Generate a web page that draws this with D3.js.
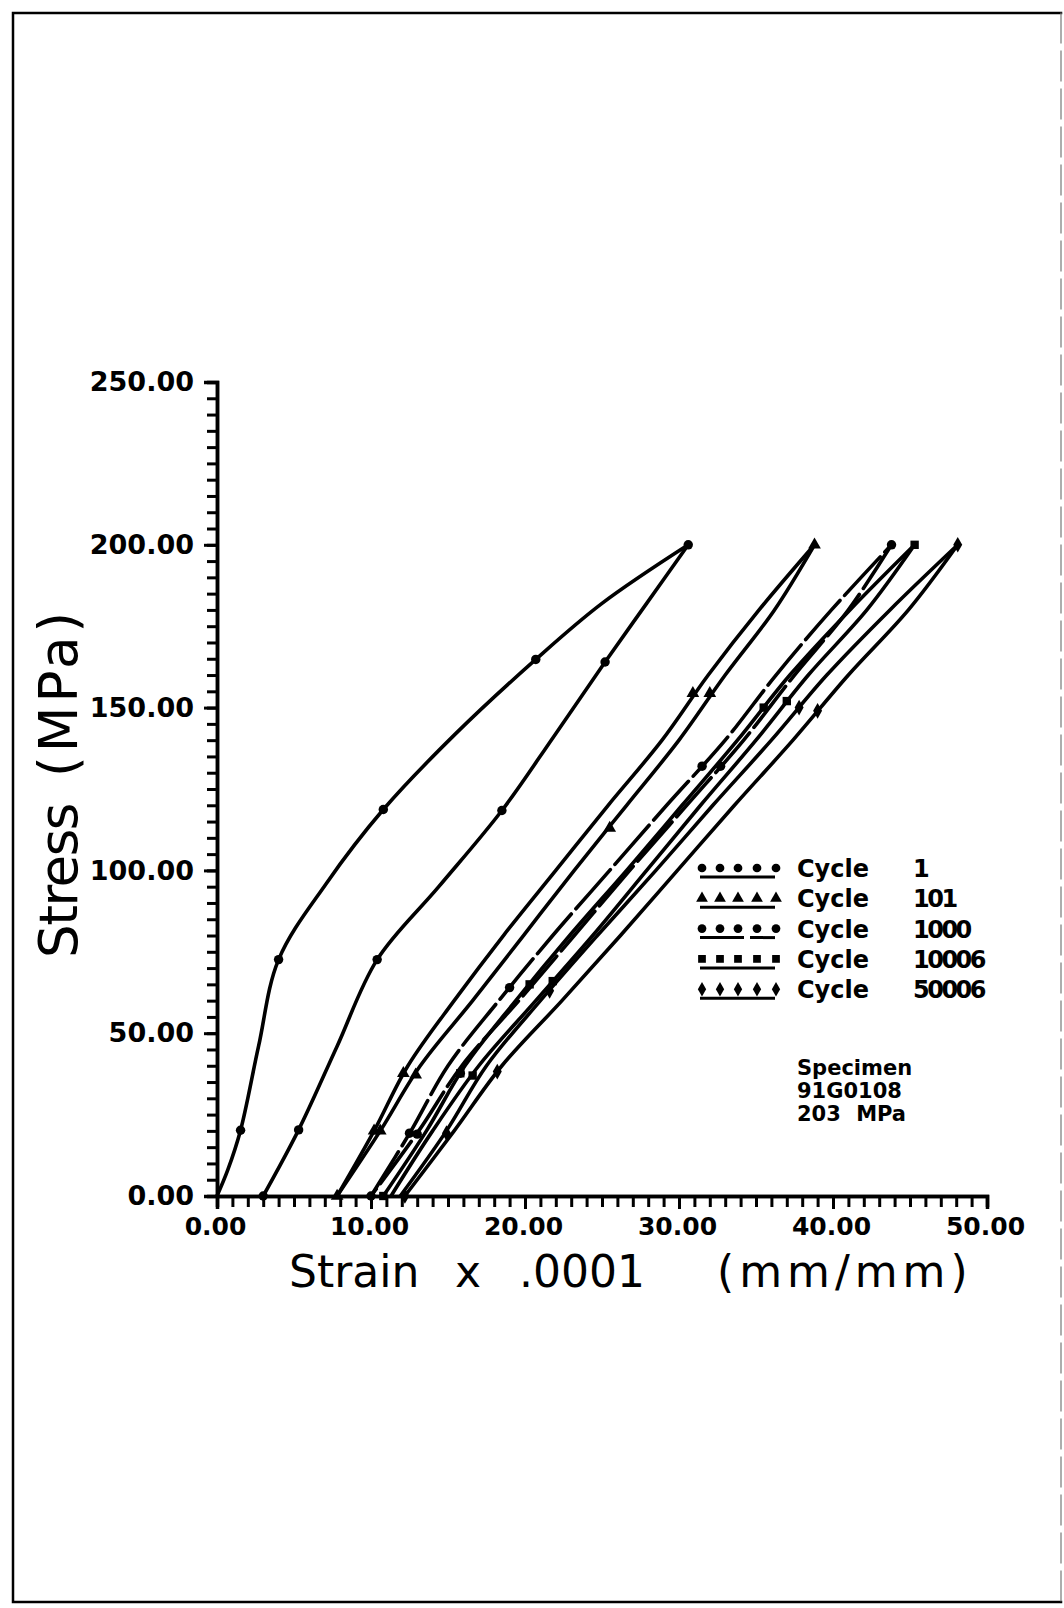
<!DOCTYPE html>
<html><head><meta charset="utf-8">
<script src="https://cdn.jsdelivr.net/npm/d3@7"></script>
<style>
html,body{margin:0;padding:0;background:#fff;}
svg{display:block;}
</style></head>
<body>
<script>
// Stress–strain hysteresis loops of specimen 91G0108 (peak stress 203 MPa)

const xTickValues = [0, 10, 20, 30, 40, 50];
const yTickValues = [0, 50, 100, 150, 200, 250];
const cycleLabels = ["1", "101", "1000", "10006", "50006"];
const specimenLines = ["Specimen", "91G0108", "203 MPa"];

// Loading / unloading branches: [strain x 0.0001, stress MPa]
const cycle1Load = [[0,0],[0.7,8],[1.53,20.2],[2.7,46],[4.0,72.6],[7.1,96],[10.8,118.7],[15.5,142],[20.7,164.8],[25.0,182],[30.6,200]];
const cycle1Unload = [[30.6,200],[27.9,182],[25.2,164],[21.85,141],[18.5,118.4],[14.4,95],[10.4,72.6],[7.8,46],[5.3,20.3],[3.0,0]];

const cycle101Load = [[7.8,0],[10.2,20],[12.4,40],[15.4,60],[18.6,80],[22.0,100],[25.4,120],[28.9,140],[31.9,160],[35.2,180],[38.8,200]];
const cycle101Unload = [[38.8,200],[36.2,180],[33.0,160],[30.0,140],[26.6,120],[23.2,100],[19.9,80],[16.6,60],[13.2,40],[10.6,20],[7.8,0]];

const cycle1000Load = [[10.0,0],[12.6,20],[15.0,40],[18.3,60],[21.8,80],[25.5,100],[29.2,120],[33.0,140],[36.3,160],[39.9,180],[43.8,200]];
const cycle1000Unload = [[43.8,200],[41.0,180],[37.5,160],[34.2,140],[30.5,120],[26.8,100],[23.2,80],[19.6,60],[15.9,40],[13.1,20],[10.0,0]];

const cycle10006Load = [[10.8,0],[13.6,20],[16.1,40],[19.4,60],[22.9,80],[26.6,100],[30.2,120],[33.8,140],[37.2,160],[41.1,180],[45.3,200]];
const cycle10006Unload = [[45.3,200],[42.2,180],[38.4,160],[35.0,140],[31.4,120],[27.9,100],[24.4,80],[20.7,60],[17.0,40],[14.0,20],[11.3,0]];

const cycle50006Load = [[11.9,0],[14.9,20],[17.5,40],[21.0,60],[24.7,80],[28.5,100],[32.2,120],[36.0,140],[39.6,160],[43.7,180],[48.1,200]];
const cycle50006Unload = [[48.1,200],[44.9,180],[41.0,160],[37.4,140],[33.6,120],[29.9,100],[26.2,80],[22.4,60],[18.5,40],[15.4,20],[12.2,0]];

// Plotted symbols along each loop
const cycle1Markers = [[1.53,20.2],[4.0,72.6],[10.8,118.7],[20.7,164.8],[30.6,200],[25.2,164],[18.5,118.4],[10.4,72.6],[5.3,20.3],[3.0,0]];
const cycle101Markers = [[10.2,20],[10.6,20],[12.1,37.7],[12.9,37.2],[25.5,113],[30.9,154.4],[32.0,154.4],[38.8,200],[7.8,0]];
const cycle1000Markers = [[12.5,19.3],[13.0,19.0],[15.8,37.7],[19.0,64],[31.5,132],[32.7,132],[43.8,200],[10.0,0]];
const cycle10006Markers = [[15.8,37.7],[20.3,65],[16.6,37],[21.8,66],[35.5,150],[37.0,152],[45.3,200],[10.8,0]];
const cycle50006Markers = [[14.9,19.3],[18.2,38.2],[21.6,63],[37.8,150],[39.0,149],[48.1,200],[12.2,0]];

const series = [
  {label: cycleLabels[0], branches: [cycle1Load, cycle1Unload], markers: cycle1Markers, symbol: d3.symbolCircle, dash: null},
  {label: cycleLabels[1], branches: [cycle101Load, cycle101Unload], markers: cycle101Markers, symbol: d3.symbolTriangle, dash: null},
  {label: cycleLabels[2], branches: [cycle1000Load, cycle1000Unload], markers: cycle1000Markers, symbol: d3.symbolCircle, dash: "52,7"},
  {label: cycleLabels[3], branches: [cycle10006Load, cycle10006Unload], markers: cycle10006Markers, symbol: d3.symbolSquare, dash: null},
  {label: cycleLabels[4], branches: [cycle50006Load, cycle50006Unload], markers: cycle50006Markers, symbol: d3.symbolDiamond, dash: null}
];

const W = 1064, H = 1608;
const svg = d3.select("body").append("svg").attr("width", W).attr("height", H);

// page frame (right edge printed faintly)
const frame = svg.append("g").attr("fill", "none").attr("stroke-linecap", "square");
frame.append("path").attr("d", "M1061,13 H13 V1602 H1061")
  .attr("stroke", "#000").attr("stroke-width", 2.5);
frame.append("path").attr("d", "M1061,13 V1602")
  .attr("stroke", "#777").attr("stroke-width", 1.2).attr("stroke-dasharray", "30,8");

const x = d3.scaleLinear().domain([0, 50]).range([217, 987]);
const y = d3.scaleLinear().domain([0, 250]).range([1196, 382]);

const tickFont = "'DejaVu Sans', sans-serif";

// axes: minor ticks every 1 strain unit / 5 MPa, labelled majors
const gx = svg.append("g").attr("transform", `translate(0,${y(0)})`);
gx.call(d3.axisBottom(x).tickValues(d3.range(0, 51, 1)).tickSize(11).tickFormat(""));
const gxMajor = svg.append("g").attr("transform", `translate(0,${y(0)})`);
gxMajor.call(d3.axisBottom(x).tickValues(xTickValues).tickSize(13).tickPadding(8).tickFormat(d3.format(".2f")));

const gy = svg.append("g").attr("transform", `translate(${x(0)},0)`);
gy.call(d3.axisLeft(y).tickValues(d3.range(0, 251, 5)).tickSize(10).tickFormat(""));
const gyMajor = svg.append("g").attr("transform", `translate(${x(0)},0)`);
gyMajor.call(d3.axisLeft(y).tickValues(yTickValues).tickSize(13).tickPadding(10).tickFormat(d3.format(".2f")));

[gx, gxMajor, gy, gyMajor].forEach(g => {
  g.selectAll(".domain").attr("stroke", "#000").attr("stroke-width", 3.5);
  g.selectAll(".tick line").attr("stroke", "#000").attr("stroke-width", 3);
});
gxMajor.selectAll(".tick text").attr("font-family", tickFont).attr("font-weight", "bold")
  .attr("font-size", 25).attr("fill", "#000").attr("dx", -2);
gyMajor.selectAll(".tick text").attr("font-family", tickFont).attr("font-weight", "bold")
  .attr("font-size", 27).attr("fill", "#000");

// axis titles
const title = svg.append("g").attr("font-family", tickFont).attr("fill", "#000");
const xt = title.append("text").attr("font-size", 44).attr("y", 1287);
xt.append("tspan").attr("x", 289).text("Strain");
xt.append("tspan").attr("x", 455).text("x");
xt.append("tspan").attr("x", 519).text(".0001");
xt.append("tspan").attr("x", 717).attr("letter-spacing", 5).text("(mm/mm)");

const yt = title.append("text").attr("font-size", 53)
  .attr("transform", "translate(77,958) rotate(-90)");
yt.append("tspan").attr("x", 0).attr("letter-spacing", -1.5).text("Stress");
yt.append("tspan").attr("x", 181).attr("letter-spacing", 4).text("(MPa)");

// loops
const line = d3.line().x(d => x(d[0])).y(d => y(d[1])).curve(d3.curveCatmullRom.alpha(0.5));
const plot = svg.append("g");
series.forEach(s => {
  s.branches.forEach(b => {
    plot.append("path").datum(b).attr("d", line)
      .attr("fill", "none").attr("stroke", "#000").attr("stroke-width", 3.6)
      .attr("stroke-linejoin", "round").attr("stroke-linecap", "round")
      .attr("stroke-dasharray", s.dash);
  });
  plot.selectAll(null).data(s.markers).enter().append("path")
    .attr("d", d3.symbol().type(s.symbol).size(70))
    .attr("transform", d => `translate(${x(d[0])},${y(d[1])})`)
    .attr("fill", "#000");
});

// legend
const legend = svg.append("g").attr("font-family", tickFont).attr("font-weight", "bold").attr("fill", "#000");
series.forEach((s, i) => {
  const by = 877 + i * 30.3;
  legend.append("line").attr("x1", 700).attr("x2", 775).attr("y1", by).attr("y2", by)
    .attr("stroke", "#000").attr("stroke-width", 3).attr("stroke-dasharray", s.dash ? "44,6" : null);
  [702, 720, 738, 757, 776].forEach(mx => {
    legend.append("path").attr("d", d3.symbol().type(s.symbol).size(60))
      .attr("transform", `translate(${mx},${by - 9})`);
  });
  legend.append("text").attr("x", 797).attr("y", by).attr("font-size", 24).text("Cycle");
  legend.append("text").attr("x", 913).attr("y", by).attr("font-size", 24)
    .attr("letter-spacing", -2.5).text(s.label);
});
specimenLines.forEach((t, i) => {
  legend.append("text").attr("x", 797).attr("y", 1075 + i * 23).attr("font-size", 21)
    .attr("word-spacing", 8).text(t);
});
</script>
</body></html>
